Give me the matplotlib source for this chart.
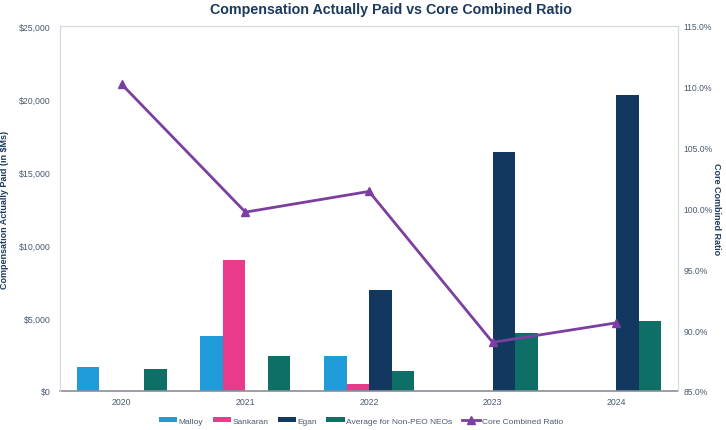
import numpy as np
import matplotlib
matplotlib.use('Agg')
from matplotlib import pyplot as plt
from matplotlib.ticker import FuncFormatter, MultipleLocator

years = ['2020', '2021', '2022', '2023', '2024']
malloy = [1650, 3800, 2420, 0, 0]
sankaran = [0, 8950, 500, 0, 0]
egan = [0, 0, 6950, 16400, 20300]
avg_non_peo = [1500, 2420, 1400, 3980, 4820]
core_ratio = [110.2, 99.7, 101.4, 89.0, 90.6]

series = [
    ('Malloy', malloy, '#1e9bd8'),
    ('Sankaran', sankaran, '#e93a8b'),
    ('Egan', egan, '#13385f'),
    ('Average for Non-PEO NEOs', avg_non_peo, '#0e6f67'),
]

plt.rcParams['font.family'] = ['Liberation Sans', 'DejaVu Sans']
navy = '#1b3a5e'
tick_col = '#4a5a70'

fig = plt.figure(figsize=(7.26, 4.31), dpi=100)
ax = fig.add_axes([0.0826, 0.0905, 0.8514, 0.847])

x = np.arange(len(years)) + 0.5
w = 0.182
for i, (name, vals, col) in enumerate(series):
    ax.bar(x + (i - 1.5) * w, vals, w, color=col, label=name, zorder=2)

ax.set_xlim(0, len(years))
ax.set_ylim(0, 25000)
ax.yaxis.set_major_locator(MultipleLocator(5000))
ax.yaxis.set_major_formatter(FuncFormatter(lambda v, p: '${:,.0f}'.format(v)))
ax.set_xticks(x)
ax.set_xticklabels(years)
ax.tick_params(length=0, labelsize=6.3, colors=tick_col)
ax.tick_params(axis='x', pad=4)
ax.tick_params(axis='y', pad=7)
ax.set_ylabel('Compensation Actually Paid (in $Ms)', fontsize=6.5, fontweight='bold', color=navy)
ax.yaxis.set_label_coords(-0.083, 0.5)

for s in ['top', 'left', 'right']:
    ax.spines[s].set_color('#d5d9de')
ax.spines['bottom'].set_color('#8a8f96')
ax.spines['bottom'].set_linewidth(1.2)

ax2 = ax.twinx()
ax2.plot(x, core_ratio, color='#7a3fa0', lw=2, marker='^', ms=6, label='Core Combined Ratio', zorder=3)
ax2.set_ylim(85, 115)
ax2.yaxis.set_major_locator(MultipleLocator(5))
ax2.yaxis.set_major_formatter(FuncFormatter(lambda v, p: '{:.1f}%'.format(v)))
ax2.tick_params(length=0, labelsize=6.2, colors=tick_col, pad=4)
ax2.set_ylabel('Core Combined Ratio', fontsize=6.5, fontweight='bold', color=navy, rotation=270)
ax2.yaxis.set_label_coords(1.070, 0.5)
for s in ['top', 'left', 'right']:
    ax2.spines[s].set_color('#d5d9de')
ax2.spines['bottom'].set_visible(False)

fig.text(0.538, 0.977, 'Compensation Actually Paid vs Core Combined Ratio', fontsize=10.3,
         fontweight='bold', color=navy, ha='center', va='center')

h1, l1 = ax.get_legend_handles_labels()
h2, l2 = ax2.get_legend_handles_labels()
fig.legend(h1 + h2, l1 + l2, loc='lower center', bbox_to_anchor=(0.497, -0.005), ncol=5, frameon=False,
           fontsize=6, handlelength=2.2, handleheight=0.45, handletextpad=0.2, columnspacing=1.1,
           labelcolor=tick_col)

fig.savefig('out.png', dpi=100)
